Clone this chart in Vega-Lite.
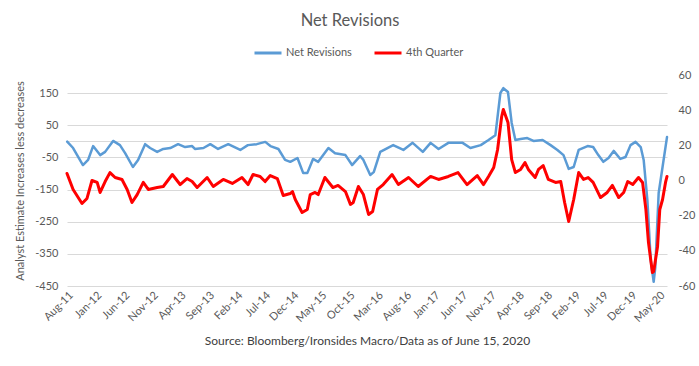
{
  "$schema": "https://vega.github.io/schema/vega-lite/v6.json",
  "width": 600,
  "height": 211,
  "autosize": {"type": "none"},
  "padding": {"left": 67, "top": 75, "right": 32, "bottom": 80},
  "background": "white",
  "config": {"font": "Lato", "view": {"stroke": null}, "axis": {"labelOverlap": false}},
  "title": {"text": "Net Revisions", "fontSize": 16.5, "font": "Lato", "fontWeight": "normal", "color": "#595959", "anchor": "middle", "dx": -17, "offset": 9},
  "datasets": {
    "net": [
      {"date": "2011-08-02", "v": -1}, {"date": "2011-09-03", "v": -21}, {"date": "2011-10-26", "v": -74}, {"date": "2011-11-23", "v": -58},
      {"date": "2011-12-20", "v": -15}, {"date": "2012-01-27", "v": -43}, {"date": "2012-02-23", "v": -33}, {"date": "2012-04-06", "v": 1},
      {"date": "2012-05-13", "v": -12}, {"date": "2012-06-10", "v": -37}, {"date": "2012-07-22", "v": -80}, {"date": "2012-08-19", "v": -58},
      {"date": "2012-09-26", "v": -9}, {"date": "2012-10-23", "v": -21}, {"date": "2012-11-30", "v": -33}, {"date": "2013-01-02", "v": -24},
      {"date": "2013-02-09", "v": -21}, {"date": "2013-03-23", "v": -9}, {"date": "2013-04-30", "v": -18}, {"date": "2013-06-07", "v": -15},
      {"date": "2013-06-22", "v": -24}, {"date": "2013-08-07", "v": -21}, {"date": "2013-09-13", "v": -9}, {"date": "2013-10-25", "v": -24},
      {"date": "2013-12-19", "v": -9}, {"date": "2014-02-22", "v": -27}, {"date": "2014-04-04", "v": -12}, {"date": "2014-05-22", "v": -9},
      {"date": "2014-07-07", "v": -2}, {"date": "2014-08-04", "v": -15}, {"date": "2014-09-16", "v": -24}, {"date": "2014-10-22", "v": -58},
      {"date": "2014-11-19", "v": -64}, {"date": "2014-12-28", "v": -52}, {"date": "2015-01-28", "v": -99}, {"date": "2015-02-19", "v": -99},
      {"date": "2015-03-22", "v": -55}, {"date": "2015-04-19", "v": -64}, {"date": "2015-06-13", "v": -21}, {"date": "2015-07-19", "v": -37},
      {"date": "2015-09-13", "v": -43}, {"date": "2015-10-19", "v": -74}, {"date": "2015-12-01", "v": -46}, {"date": "2015-12-19", "v": -58},
      {"date": "2016-01-25", "v": -105}, {"date": "2016-02-13", "v": -96}, {"date": "2016-03-19", "v": -33}, {"date": "2016-05-28", "v": -12},
      {"date": "2016-07-22", "v": -27}, {"date": "2016-09-10", "v": -5}, {"date": "2016-11-04", "v": -33}, {"date": "2016-12-16", "v": -5},
      {"date": "2017-01-28", "v": -24}, {"date": "2017-03-22", "v": -5}, {"date": "2017-06-07", "v": -5}, {"date": "2017-07-19", "v": -21},
      {"date": "2017-09-13", "v": -12}, {"date": "2017-10-25", "v": 4}, {"date": "2017-12-01", "v": 19}, {"date": "2017-12-28", "v": 150},
      {"date": "2018-01-13", "v": 165}, {"date": "2018-02-07", "v": 153}, {"date": "2018-02-27", "v": 57}, {"date": "2018-03-19", "v": 4},
      {"date": "2018-04-16", "v": 7}, {"date": "2018-05-22", "v": 10}, {"date": "2018-06-25", "v": 1}, {"date": "2018-08-13", "v": 4},
      {"date": "2018-09-25", "v": -12}, {"date": "2018-11-01", "v": -27}, {"date": "2018-12-04", "v": -43}, {"date": "2019-01-01", "v": -86},
      {"date": "2019-01-28", "v": -80}, {"date": "2019-02-24", "v": -27}, {"date": "2019-04-13", "v": -15}, {"date": "2019-05-13", "v": -18},
      {"date": "2019-06-10", "v": -43}, {"date": "2019-07-07", "v": -64}, {"date": "2019-08-04", "v": -52}, {"date": "2019-09-01", "v": -30},
      {"date": "2019-10-07", "v": -55}, {"date": "2019-11-04", "v": -49}, {"date": "2019-12-01", "v": -12}, {"date": "2019-12-28", "v": -2},
      {"date": "2020-01-25", "v": -18}, {"date": "2020-02-10", "v": -58}, {"date": "2020-03-01", "v": -183}, {"date": "2020-03-19", "v": -369},
      {"date": "2020-04-04", "v": -437}, {"date": "2020-04-13", "v": -391}, {"date": "2020-05-01", "v": -161}, {"date": "2020-05-22", "v": -80},
      {"date": "2020-06-15", "v": 13}
    ],
    "q4": [
      {"date": "2011-08-01", "r": 4.0}, {"date": "2011-09-03", "r": -5.1}, {"date": "2011-10-21", "r": -13.1}, {"date": "2011-11-17", "r": -10.2},
      {"date": "2011-12-14", "r": 0}, {"date": "2012-01-11", "r": -1.1}, {"date": "2012-01-27", "r": -6.8}, {"date": "2012-02-23", "r": -0.6},
      {"date": "2012-03-20", "r": 4.5}, {"date": "2012-04-17", "r": 1.7}, {"date": "2012-05-24", "r": 0.6}, {"date": "2012-06-21", "r": -5.1},
      {"date": "2012-07-17", "r": -12.5}, {"date": "2012-08-14", "r": -8.0}, {"date": "2012-09-16", "r": -1.1}, {"date": "2012-10-13", "r": -5.1},
      {"date": "2012-11-30", "r": -4.0}, {"date": "2013-01-02", "r": -3.4}, {"date": "2013-02-20", "r": 3.4}, {"date": "2013-04-03", "r": -2.3},
      {"date": "2013-05-10", "r": 1.1}, {"date": "2013-06-07", "r": -0.6}, {"date": "2013-07-04", "r": -4.0}, {"date": "2013-08-27", "r": 1.7},
      {"date": "2013-09-29", "r": -3.4}, {"date": "2013-11-22", "r": 0.6}, {"date": "2014-01-10", "r": -1.7}, {"date": "2014-03-03", "r": 1.7},
      {"date": "2014-04-05", "r": -2.3}, {"date": "2014-05-02", "r": 3.4}, {"date": "2014-06-09", "r": 2.3}, {"date": "2014-07-06", "r": -0.6},
      {"date": "2014-08-03", "r": 2.8}, {"date": "2014-09-10", "r": 1.1}, {"date": "2014-10-12", "r": -8.5}, {"date": "2014-11-19", "r": -7.4},
      {"date": "2014-12-01", "r": -6.3}, {"date": "2014-12-16", "r": -10.8}, {"date": "2015-01-22", "r": -18.2}, {"date": "2015-02-19", "r": -16.5},
      {"date": "2015-03-07", "r": -8.0}, {"date": "2015-04-02", "r": -6.8}, {"date": "2015-04-19", "r": -8.0}, {"date": "2015-05-25", "r": 1.7},
      {"date": "2015-07-07", "r": -4.0}, {"date": "2015-08-04", "r": -2.8}, {"date": "2015-09-13", "r": -6.3}, {"date": "2015-10-10", "r": -13.6},
      {"date": "2015-10-25", "r": -12.5}, {"date": "2015-11-22", "r": -3.4}, {"date": "2015-12-19", "r": -8.0}, {"date": "2016-01-16", "r": -19.3},
      {"date": "2016-02-07", "r": -17.6}, {"date": "2016-03-04", "r": -5.1}, {"date": "2016-04-04", "r": -2.3}, {"date": "2016-05-22", "r": 3.4},
      {"date": "2016-06-25", "r": -2.3}, {"date": "2016-08-19", "r": 1.7}, {"date": "2016-10-10", "r": -3.4}, {"date": "2016-12-16", "r": 2.3},
      {"date": "2017-01-28", "r": 0.6}, {"date": "2017-03-22", "r": 2.3}, {"date": "2017-05-13", "r": 4.5}, {"date": "2017-07-01", "r": -2.3},
      {"date": "2017-08-25", "r": 2.8}, {"date": "2017-09-28", "r": -2.3}, {"date": "2017-10-25", "r": 2.3}, {"date": "2017-11-22", "r": 7.4},
      {"date": "2017-12-13", "r": 17.6}, {"date": "2018-01-04", "r": 36.4}, {"date": "2018-01-13", "r": 40.4}, {"date": "2018-02-07", "r": 33.0},
      {"date": "2018-02-27", "r": 11.9}, {"date": "2018-03-19", "r": 4.5}, {"date": "2018-04-16", "r": 6.3}, {"date": "2018-05-10", "r": 10.2},
      {"date": "2018-05-28", "r": 6.3}, {"date": "2018-07-04", "r": 1.7}, {"date": "2018-07-22", "r": 6.3}, {"date": "2018-08-16", "r": 8.5},
      {"date": "2018-09-13", "r": 0.6}, {"date": "2018-10-22", "r": -1.1}, {"date": "2018-11-19", "r": -0.6}, {"date": "2018-12-10", "r": -12.5},
      {"date": "2019-01-01", "r": -23.3}, {"date": "2019-01-28", "r": -10.8}, {"date": "2019-02-24", "r": 4.5}, {"date": "2019-03-22", "r": 0.6},
      {"date": "2019-04-16", "r": 1.7}, {"date": "2019-05-13", "r": -1.1}, {"date": "2019-06-22", "r": -9.7}, {"date": "2019-07-28", "r": -6.8},
      {"date": "2019-08-25", "r": -2.8}, {"date": "2019-09-28", "r": -9.7}, {"date": "2019-10-25", "r": -6.8}, {"date": "2019-11-16", "r": -0.6},
      {"date": "2019-12-13", "r": -2.3}, {"date": "2020-01-13", "r": 1.7}, {"date": "2020-02-04", "r": -1.1}, {"date": "2020-02-22", "r": -16.5},
      {"date": "2020-03-07", "r": -35.3}, {"date": "2020-03-28", "r": -52.3}, {"date": "2020-04-04", "r": -51.8}, {"date": "2020-04-25", "r": -37.5},
      {"date": "2020-05-07", "r": -16.5}, {"date": "2020-05-22", "r": -10.8}, {"date": "2020-06-07", "r": -1.1}, {"date": "2020-06-15", "r": 2.3}
    ]
  },
  "encoding": {
    "x": {
      "field": "date", "type": "temporal",
      "scale": {"type": "utc", "domain": [{"year": 2011, "month": 8, "date": 1, "utc": true}, {"year": 2020, "month": 6, "date": 15, "utc": true}]},
      "axis": {
        "values": [
          {"year": 2011, "month": 8, "date": 1, "utc": true}, {"year": 2012, "month": 1, "date": 1, "utc": true},
          {"year": 2012, "month": 6, "date": 1, "utc": true}, {"year": 2012, "month": 11, "date": 1, "utc": true},
          {"year": 2013, "month": 4, "date": 1, "utc": true}, {"year": 2013, "month": 9, "date": 1, "utc": true},
          {"year": 2014, "month": 2, "date": 1, "utc": true}, {"year": 2014, "month": 7, "date": 1, "utc": true},
          {"year": 2014, "month": 12, "date": 1, "utc": true}, {"year": 2015, "month": 5, "date": 1, "utc": true},
          {"year": 2015, "month": 10, "date": 1, "utc": true}, {"year": 2016, "month": 3, "date": 1, "utc": true},
          {"year": 2016, "month": 8, "date": 1, "utc": true}, {"year": 2017, "month": 1, "date": 1, "utc": true},
          {"year": 2017, "month": 6, "date": 1, "utc": true}, {"year": 2017, "month": 11, "date": 1, "utc": true},
          {"year": 2018, "month": 4, "date": 1, "utc": true}, {"year": 2018, "month": 9, "date": 1, "utc": true},
          {"year": 2019, "month": 2, "date": 1, "utc": true}, {"year": 2019, "month": 7, "date": 1, "utc": true},
          {"year": 2019, "month": 12, "date": 1, "utc": true}, {"year": 2020, "month": 5, "date": 1, "utc": true}
        ],
        "labelExpr": "utcFormat(datum.value, '%b-%y')",
        "labelAngle": -45,
        "labelFontSize": 11,
        "labelColor": "#595959",
        "labelOverlap": false,
        "labelFlush": false,
        "labelBound": false,
        "labelPadding": 3,
        "ticks": false,
        "domain": false,
        "grid": false,
        "title": "Source: Bloomberg/Ironsides Macro/Data as of June 15, 2020",
        "titleFontSize": 12,
        "titleFontWeight": "normal",
        "titleColor": "#404040",
        "titlePadding": 12
      }
    }
  },
  "layer": [
    {
      "data": {"name": "net"},
      "mark": {"type": "line", "strokeWidth": 2.5, "strokeJoin": "round", "strokeCap": "round"},
      "encoding": {
        "y": {
          "field": "v", "type": "quantitative",
          "scale": {"domain": [-450, 206], "nice": false, "zero": false},
          "axis": {
            "orient": "left",
            "values": [-450, -350, -250, -150, -50, 0, 50, 150],
            "labelExpr": "datum.value == 0 ? '' : '' + datum.value",
            "grid": true,
            "gridColor": "#D9D9D9",
            "gridWidth": 1,
            "domain": false,
            "ticks": false,
            "labelColor": "#595959",
            "labelFontSize": 11,
            "labelPadding": 9,
            "title": "Analyst Estimate Increases less decreases",
            "titleFontSize": 11,
            "titleFontWeight": "normal",
            "titleColor": "#595959",
            "titlePadding": 9
          }
        },
        "color": {
          "datum": "Net Revisions", "type": "nominal",
          "scale": {"domain": ["Net Revisions", "4th Quarter"], "range": ["#5B9BD5", "#FF0000"]},
          "legend": {
            "orient": "none", "legendX": 186, "legendY": -37, "direction": "horizontal", "title": null,
            "symbolType": "stroke", "symbolSize": 729, "symbolStrokeWidth": 3,
            "labelFontSize": 11, "labelColor": "#595959", "labelOffset": 3, "columnPadding": 16, "padding": 0
          }
        }
      }
    },
    {
      "data": {"name": "q4"},
      "mark": {"type": "line", "strokeWidth": 3, "strokeJoin": "round", "strokeCap": "round"},
      "encoding": {
        "y": {
          "field": "r", "type": "quantitative",
          "scale": {"domain": [-60, 60], "nice": false, "zero": false},
          "axis": {
            "orient": "right",
            "values": [-60, -40, -20, 0, 20, 40, 60],
            "labelExpr": "'' + datum.value",
            "grid": false,
            "domain": false,
            "ticks": false,
            "labelColor": "#595959",
            "labelFontSize": 11,
            "labelPadding": 11,
            "title": null
          }
        },
        "color": {"datum": "4th Quarter", "type": "nominal"}
      }
    }
  ],
  "resolve": {"scale": {"y": "independent"}}
}
